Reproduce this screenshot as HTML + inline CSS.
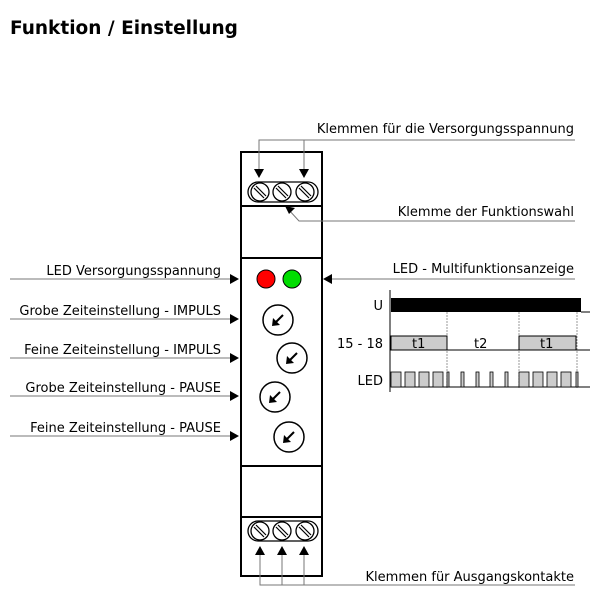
<!DOCTYPE html>
<html><head><meta charset="utf-8"><style>
body{margin:0;background:#fff;}
svg text{font-family:"DejaVu Sans","Liberation Sans",sans-serif;font-size:13px;fill:#000;}
</style></head><body>
<svg width="615" height="611" viewBox="0 0 615 611" xmlns="http://www.w3.org/2000/svg">
<defs>
<g id="screw"><circle r="9" fill="#fff" stroke="#000" stroke-width="1.3"/><line x1="-6" y1="-4" x2="4" y2="6" stroke="#000" stroke-width="1.2"/><line x1="-4" y1="-6" x2="6" y2="4" stroke="#000" stroke-width="1.2"/></g>
<g id="knob"><circle r="15" fill="#fff" stroke="#000" stroke-width="1.5"/><line x1="5" y1="-5" x2="-3" y2="3" stroke="#000" stroke-width="2"/><path d="M-6,6 L-5,-2 L2,5 z" fill="#000"/></g>
</defs>
<text x="10" y="34" style="font-size:18.5px;font-weight:bold">Funktion / Einstellung</text>

<rect x="241" y="152" width="81" height="424" fill="#fff" stroke="#000" stroke-width="2"/>
<line x1="241" y1="206" x2="322" y2="206" stroke="#000" stroke-width="2"/>
<line x1="241" y1="258" x2="322" y2="258" stroke="#000" stroke-width="2"/>
<line x1="241" y1="466" x2="322" y2="466" stroke="#000" stroke-width="2"/>
<line x1="241" y1="517" x2="322" y2="517" stroke="#000" stroke-width="2"/>
<rect x="248" y="182" width="70" height="20" rx="10" fill="#fff" stroke="#000" stroke-width="1.3"/>
<use href="#screw" x="260" y="192"/><use href="#screw" x="282" y="192"/><use href="#screw" x="305" y="192"/>
<rect x="248" y="521" width="70" height="20" rx="10" fill="#fff" stroke="#000" stroke-width="1.3"/>
<use href="#screw" x="260" y="531"/><use href="#screw" x="282" y="531"/><use href="#screw" x="305" y="531"/>
<circle cx="266" cy="279" r="9" fill="#f00" stroke="#000"/>
<circle cx="292" cy="279" r="9" fill="#0d0" stroke="#000"/>
<use href="#knob" x="278" y="320"/><use href="#knob" x="292" y="358"/><use href="#knob" x="275" y="397"/><use href="#knob" x="289" y="437"/>

<g stroke="#777" fill="none" stroke-width="1">
<polyline points="575,140 259,140 259,176"/><line x1="304" y1="140" x2="304" y2="176"/>
<polyline points="575,221 299,221 288,209"/>
<line x1="575" y1="279" x2="326" y2="279"/>
<polyline points="575,585 260,585 260,550"/><line x1="282" y1="585" x2="282" y2="550"/><line x1="304" y1="585" x2="304" y2="550"/>
<line x1="10" y1="279" x2="236" y2="279"/><line x1="10" y1="319" x2="236" y2="319"/><line x1="10" y1="358" x2="236" y2="358"/><line x1="10" y1="396" x2="236" y2="396"/><line x1="10" y1="436" x2="236" y2="436"/>
</g>
<g fill="#000">
<path d="M254,169 L264,169 L259,178 z"/><path d="M299,169 L309,169 L304,178 z"/>
<path d="M285,206 L295,208 L289,214 z"/>
<path d="M323,279 L332,274 L332,284 z"/>
<path d="M255,555 L265,555 L260,546 z"/><path d="M277,555 L287,555 L282,546 z"/><path d="M299,555 L309,555 L304,546 z"/>
<path d="M239,279 L230,274 L230,284 z"/><path d="M239,319 L230,314 L230,324 z"/><path d="M239,358 L230,353 L230,363 z"/><path d="M239,396 L230,391 L230,401 z"/><path d="M239,436 L230,431 L230,441 z"/>
</g>
<text x="574" y="133" text-anchor="end">Klemmen für die Versorgungsspannung</text>
<text x="574" y="216" text-anchor="end">Klemme der Funktionswahl</text>
<text x="574" y="273" text-anchor="end">LED - Multifunktionsanzeige</text>
<text x="574" y="581" text-anchor="end">Klemmen für Ausgangskontakte</text>
<text x="221" y="275" text-anchor="end">LED Versorgungsspannung</text>
<text x="221" y="315" text-anchor="end">Grobe Zeiteinstellung - IMPULS</text>
<text x="221" y="354" text-anchor="end">Feine Zeiteinstellung - IMPULS</text>
<text x="221" y="392" text-anchor="end">Grobe Zeiteinstellung - PAUSE</text>
<text x="221" y="432" text-anchor="end">Feine Zeiteinstellung - PAUSE</text>

<line x1="390" y1="290" x2="390" y2="392" stroke="#000"/>
<g stroke="#999" stroke-dasharray="2,1"><line x1="447" y1="312" x2="447" y2="388"/><line x1="519" y1="312" x2="519" y2="388"/><line x1="577" y1="312" x2="577" y2="388"/></g>
<rect x="391" y="298" width="190" height="14" fill="#000"/>
<line x1="581" y1="312" x2="590" y2="312" stroke="#000"/>
<text x="383" y="310" text-anchor="end">U</text>
<text x="383" y="348" text-anchor="end">15 - 18</text>
<text x="383" y="385" text-anchor="end">LED</text>
<g fill="#ccc" stroke="#000" stroke-width="1">
<rect x="391" y="336" width="56" height="14"/><rect x="519" y="336" width="57" height="14"/>
</g>
<line x1="447" y1="350" x2="519" y2="350" stroke="#000"/><line x1="576" y1="350" x2="590" y2="350" stroke="#000"/>
<text x="412" y="348">t1</text><text x="474" y="348">t2</text><text x="540" y="348">t1</text>
<line x1="391" y1="387" x2="590" y2="387" stroke="#000"/>
<g fill="#ccc" stroke="#000" stroke-width="0.8">
<rect x="391" y="372" width="10" height="15"/><rect x="405" y="372" width="10" height="15"/><rect x="419" y="372" width="10" height="15"/><rect x="433" y="372" width="10" height="15"/><rect x="447" y="372" width="2" height="15"/>
<rect x="461" y="372" width="3" height="15"/><rect x="476" y="372" width="3" height="15"/><rect x="490" y="372" width="3" height="15"/><rect x="505" y="372" width="3" height="15"/>
<rect x="519" y="372" width="10" height="15"/><rect x="533" y="372" width="10" height="15"/><rect x="547" y="372" width="10" height="15"/><rect x="561" y="372" width="10" height="15"/><rect x="576" y="372" width="2" height="15"/>
</g>
</svg>
</body></html>
